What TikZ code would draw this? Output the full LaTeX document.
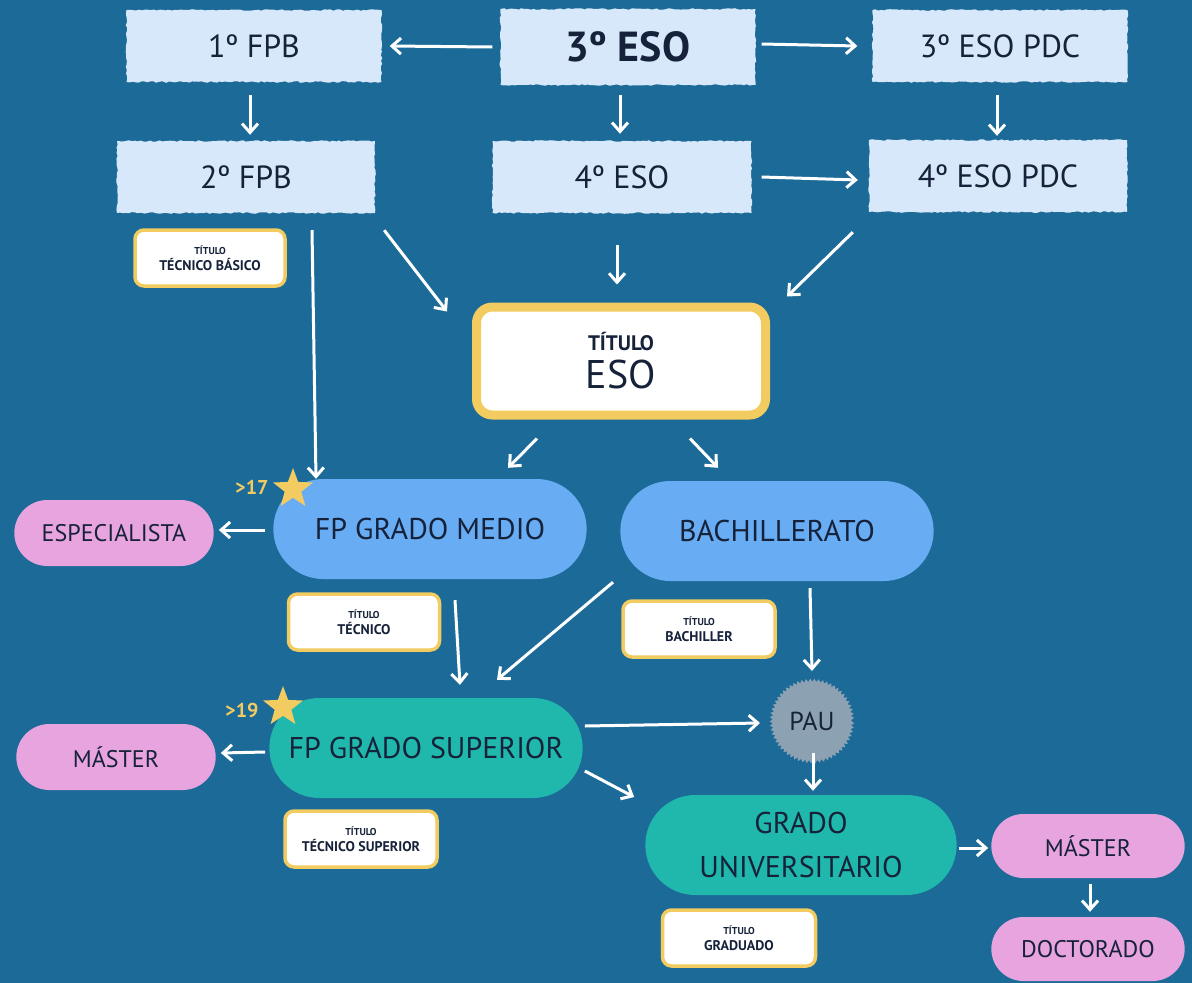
\documentclass[tikz,border=0pt]{standalone}
\usepackage{fontspec}
\setmainfont{PT Sans}
\usetikzlibrary{arrows.meta,shapes.geometric,shapes.misc,decorations.pathmorphing,calc}
\definecolor{bg}{RGB}{28,106,152}
\definecolor{lbox}{RGB}{214,232,250}
\definecolor{txt}{RGB}{22,34,58}
\definecolor{ylw}{RGB}{242,204,96}
\definecolor{midblue}{RGB}{104,172,244}
\definecolor{teal}{RGB}{32,184,172}
\definecolor{pink}{RGB}{232,164,222}
\definecolor{pau}{RGB}{140,162,178}
\tikzset{
  roughbox/.style={fill=lbox, minimum width=255pt, minimum height=72pt, text=txt,
    font=\fontsize{32}{36}\selectfont,
    decorate, decoration={random steps, segment length=3pt, amplitude=0.8pt}},
  titlebox/.style={fill=white, draw=ylw, line width=3.5pt, rounded corners=9pt,
    minimum width=150pt, minimum height=56pt, text=txt, align=center,
    font=\fontsize{14}{16}\selectfont\bfseries},
  pill/.style={rounded rectangle, minimum width=320pt, minimum height=100pt, text=txt,
    font=\fontsize{30}{36}\selectfont, align=center},
  pinkpill/.style={rounded rectangle, fill=pink, minimum width=206pt, minimum height=66pt,
    text=txt, font=\fontsize{24}{28}\selectfont},
  arr/.style={draw=white, line width=3pt, -{Straight Barb[length=9pt,width=16pt,line width=3pt]}},
  starn/.style={star, star points=5, star point ratio=2.4, fill=ylw, minimum size=42pt, inner sep=0pt},
  agelbl/.style={text=ylw, font=\fontsize{20}{22}\selectfont\bfseries},
}
\newcommand{\tsmall}{\fontsize{10}{11}\selectfont}
\begin{document}
\begin{tikzpicture}[x=1pt,y=-1pt]
\useasboundingbox (0,0) rectangle (1192,983);
\fill[bg] (0,0) rectangle (1192,983);

% top boxes
\node[roughbox] (fpb1) at (254,46) {1º FPB};
\node[roughbox, font=\fontsize{42}{46}\selectfont\bfseries, minimum height=76pt] (eso3) at (628,47) {3º ESO};
\node[roughbox] (pdc3) at (1000,46) {3º ESO PDC};
\node[roughbox, minimum width=258pt] (fpb2) at (246,177) {2º FPB};
\node[roughbox, minimum width=259pt] (eso4) at (622,177) {4º ESO};
\node[roughbox, minimum width=258pt] (pdc4) at (998,176) {4º ESO PDC};

% titulo ESO
\node[fill=white, draw=ylw, line width=9pt, rounded corners=16pt, minimum width=289pt,
      minimum height=108pt, text=txt, align=center, font=\fontsize{40}{38}\selectfont]
      (teso) at (621,361)
      {{\fontsize{21}{24}\selectfont\bfseries TÍTULO}\\ESO};

% small title boxes
\node[titlebox, minimum width=150pt] (tbas) at (210,258) {{\tsmall TÍTULO}\\TÉCNICO BÁSICO};
\node[titlebox, minimum width=151pt] (ttec) at (364,622) {{\tsmall TÍTULO}\\TÉCNICO};
\node[titlebox, minimum width=152pt] (tbach) at (699,629) {{\tsmall TÍTULO}\\BACHILLER};
\node[titlebox, minimum width=152pt] (tsup) at (361,839) {{\tsmall TÍTULO}\\TÉCNICO SUPERIOR};
\node[titlebox, minimum width=153pt] (tgrad) at (739,938) {{\tsmall TÍTULO}\\GRADUADO};

% pills
\node[pill, fill=midblue] (fpgm) at (430,529) {FP GRADO MEDIO};
\node[pill, fill=midblue] (bach) at (777,531) {BACHILLERATO};
\node[pill, fill=teal] (fpgs) at (426,748) {FP GRADO SUPERIOR};
\node[pill, fill=teal, minimum width=318pt, font=\fontsize{30}{44}\selectfont] (grado) at (801,845) {GRADO\\UNIVERSITARIO};
\node[pinkpill] (espec) at (114,533) {ESPECIALISTA};
\node[pinkpill] (mastl) at (116,757) {MÁSTER};
\node[pinkpill, minimum width=200pt, minimum height=64pt] (mastr) at (1088,846) {MÁSTER};
\node[pinkpill, minimum width=200pt, minimum height=64pt] (doct) at (1088,949) {DOCTORADO};

% PAU
\node[circle, fill=pau, minimum size=78pt, text=txt, font=\fontsize{26}{28}\selectfont,
      draw=pau, line width=2pt, decorate, decoration={zigzag, segment length=4pt, amplitude=1.5pt}]
      (pau) at (812,721) {PAU};

% stars and ages
\node[starn] (st17) at (293,489) {};
\node[agelbl, anchor=east] (a17) at (272,487) {>17};
\node[starn] (st19) at (283,707) {};
\node[agelbl, anchor=east] (a19) at (262,710) {>19};

% connectors
\draw[arr] ($(eso3.west)+(-8,0)$) -- ($(fpb1.east)+(8,0)$);
\draw[arr] ($(eso3.east)+(6,-3)$) -- ($(pdc3.west)+(-15,0)$);
\draw[arr] ($(fpb1.south)+(-4,13)$) -- ($(fpb2.north)+(4,-6)$);
\draw[arr] ($(eso3.south)+(-8,10)$) -- ($(eso4.north)+(-2,-7)$);
\draw[arr] ($(pdc3.south)+(-3,13)$) -- ($(pdc4.north)+(-1,-4)$);
\draw[arr] ($(eso4.east)+(10,0)$) -- ($(pdc4.west)+(-11,4)$);
\draw[arr] ($(fpb2.south)+(66,17)$) -- ($(fpgm.north)+(-114,0)$);
\draw[arr] ($(fpb2.south east)+(9,17)$) -- ($(teso.north west)+(-25,9)$);
\draw[arr] ($(eso4.south)+(-5,32)$) -- ($(teso.north)+(-4,-18)$);
\draw[arr] ($(pdc4.south west)+(-16,20)$) -- ($(teso.north east)+(17,-6)$);
\draw[arr] ($(teso.south)+(-84,19)$) -- ($(fpgm.north)+(78,-11)$);
\draw[arr] ($(teso.south)+(69,19)$) -- ($(bach.north)+(-59,-13)$);
\draw[arr] ($(fpgm.west)+(-8,1)$) -- ($(espec.east)+(5,-3)$);
\draw[arr] ($(fpgm.south)+(25,21)$) -- ($(fpgs.north)+(34,-13)$);
\draw[arr] ($(bach.south)+(-164,1)$) -- ($(fpgs.north)+(71,-18)$);
\draw[arr] ($(bach.south)+(33,7)$) -- ($(pau.north)+(0,-10)$);
\draw[arr] ($(fpgs.east)+(2,-22)$) -- ($(pau.west)+(-12,2)$);
\draw[arr] ($(fpgs.west)+(-4,4)$) -- ($(mastl.east)+(5,-4)$);
\draw[arr] ($(fpgs.east)+(2,23)$) -- ($(grado.west)+(-11,-48)$);
\draw[arr] ($(pau.south)+(1,-8)$) -- ($(grado.north)+(12,-4)$);
\draw[arr] ($(grado.east)+(2,3)$) -- ($(mastr.west)+(-3,2)$);
\draw[arr] ($(mastr.south)+(2,6)$) -- ($(doct.north)+(2,-5)$);
\end{tikzpicture}
\end{document}
